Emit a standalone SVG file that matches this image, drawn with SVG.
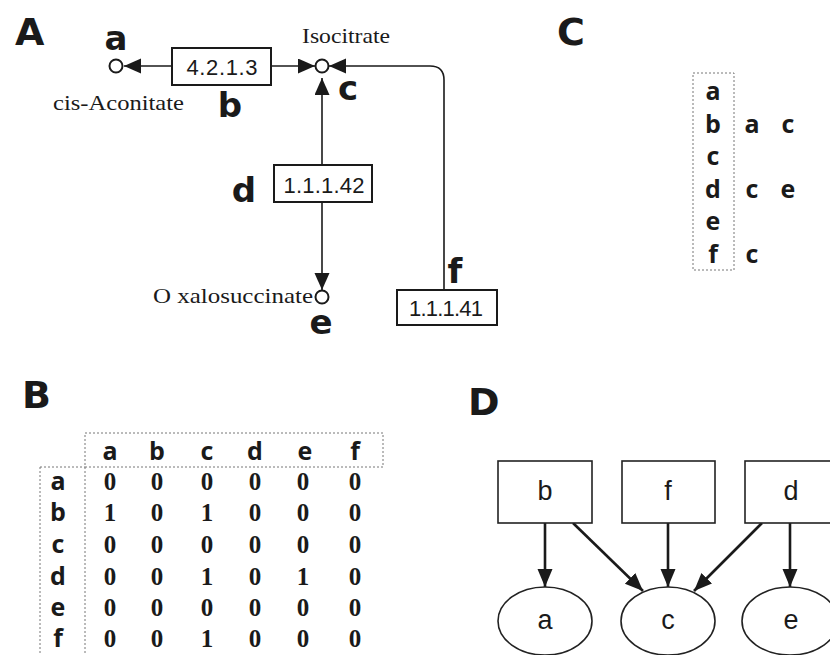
<svg xmlns="http://www.w3.org/2000/svg" width="830" height="655" viewBox="0 0 830 655">
<defs>
<style>
.panel{font-family:"DejaVu Sans",Verdana,sans-serif;font-weight:bold;font-size:38px;fill:#1a1a1a}
.lbl{font-family:"DejaVu Sans",Verdana,sans-serif;font-weight:bold;font-size:34px;fill:#1a1a1a;text-anchor:middle}
.ser{font-family:"Liberation Serif","Times New Roman",serif;font-size:21px;fill:#1a1a1a}
.ec{font-family:"Liberation Sans",Arial,sans-serif;font-size:22px;fill:#1a1a1a;text-anchor:middle}
.box{fill:#fff;stroke:#1a1a1a;stroke-width:2}
.met{fill:#fff;stroke:#1a1a1a;stroke-width:2}
.ln{fill:none;stroke:#1a1a1a;stroke-width:1.6}
.ln2{fill:none;stroke:#1a1a1a;stroke-width:2.6}
.let{font-family:"Open Sans","DejaVu Sans",sans-serif;font-weight:bold;font-size:25px;fill:#1a1a1a;text-anchor:middle}
.num{font-family:"Liberation Serif","Times New Roman",serif;font-weight:bold;font-size:25px;fill:#1a1a1a;text-anchor:middle}
.dash{fill:none;stroke:#777;stroke-width:1;stroke-dasharray:2 2}
.dbox{fill:#fff;stroke:#222;stroke-width:1.6}
.dtx{font-family:"Liberation Sans",Arial,sans-serif;font-size:27px;fill:#1a1a1a;text-anchor:middle}
</style>
<marker id="ah" markerUnits="userSpaceOnUse" markerWidth="20" markerHeight="18" refX="17" refY="7.5" orient="auto">
<path d="M0,0 L17,7.5 L0,15 z" fill="#1a1a1a"/>
</marker>
<marker id="ahd" markerUnits="userSpaceOnUse" markerWidth="20" markerHeight="16" refX="18" refY="7.5" orient="auto">
<path d="M0,0 L18,7.5 L0,15 z" fill="#1a1a1a"/>
</marker>
</defs>
<rect width="830" height="655" fill="#fff"/>

<!-- Panel labels -->
<text class="panel" x="15" y="45">A</text>
<text class="panel" x="22" y="408">B</text>
<text class="panel" x="557" y="45">C</text>
<text class="panel" x="468" y="415">D</text>

<!-- Panel A connectors -->
<g id="connectors-A">
<line class="ln" x1="172" y1="66" x2="124" y2="66" marker-end="url(#ah)"/>
<line class="ln" x1="271" y1="66" x2="315" y2="66" marker-end="url(#ah)"/>
<line class="ln" x1="322" y1="165" x2="322" y2="78" marker-end="url(#ah)"/>
<line class="ln" x1="322" y1="202" x2="322" y2="290" marker-end="url(#ah)"/>
<path class="ln" d="M444,290 V80 Q444,66 430,66 H329" marker-end="url(#ah)"/>
</g>

<!-- Panel A nodes -->
<g id="node-a">
<circle class="met" cx="116" cy="66" r="6.5"/>
<text class="lbl" x="116" y="50">a</text>
<text class="ser" x="53" y="110" textLength="131" lengthAdjust="spacingAndGlyphs">cis-Aconitate</text>
</g>
<g id="node-b">
<rect class="box" x="172" y="48" width="99" height="37"/>
<text class="ec" x="222" y="75" textLength="71" lengthAdjust="spacing">4.2.1.3</text>
<text class="lbl" x="230" y="117">b</text>
</g>
<g id="node-c">
<circle class="met" cx="322" cy="66" r="6.5"/>
<text class="ser" x="302" y="43" textLength="88" lengthAdjust="spacingAndGlyphs">Isocitrate</text>
<text class="lbl" x="348" y="100">c</text>
</g>
<g id="node-d">
<rect class="box" x="274" y="165" width="98" height="37"/>
<text class="ec" x="324" y="193" textLength="81" lengthAdjust="spacing">1.1.1.42</text>
<text class="lbl" x="244" y="202">d</text>
</g>
<g id="node-e">
<circle class="met" cx="322" cy="297" r="6.5"/>
<text class="ser" x="153" y="303" textLength="160" lengthAdjust="spacingAndGlyphs">O xalosuccinate</text>
<text class="lbl" x="321" y="334">e</text>
</g>
<g id="node-f">
<rect class="box" x="397" y="290" width="100" height="35"/>
<text class="ec" x="446" y="316" textLength="74" lengthAdjust="spacing">1.1.1.41</text>
<text class="lbl" x="455" y="283">f</text>
</g>

<!-- Panel C -->
<g id="panel-C">
<rect class="dash" x="693" y="73" width="41" height="197"/>
<text class="let" x="713" y="100">a</text>
<text class="let" x="713" y="133">b</text>
<text class="let" x="713" y="165">c</text>
<text class="let" x="713" y="198">d</text>
<text class="let" x="713" y="230">e</text>
<text class="let" x="713" y="263">f</text>
<text class="let" x="752" y="133">a</text>
<text class="let" x="788" y="133">c</text>
<text class="let" x="752" y="198">c</text>
<text class="let" x="788" y="198">e</text>
<text class="let" x="752" y="263">c</text>
</g>

<!-- Panel B -->
<g id="panel-B">
<rect class="dash" x="85" y="433" width="298" height="34"/>
<path class="dash" d="M40,467 H85 M40,467 V655 M85,467 V655"/>
<g class="let">
<text x="110" y="460">a</text><text x="157" y="460">b</text><text x="207" y="460">c</text>
<text x="255" y="460">d</text><text x="305" y="460">e</text><text x="355" y="460">f</text>
<text x="58" y="490">a</text><text x="58" y="521">b</text><text x="58" y="553">c</text>
<text x="58" y="585">d</text><text x="58" y="616">e</text><text x="58" y="647">f</text>
</g>
<g class="num">
<text x="110" y="490">0</text><text x="157" y="490">0</text><text x="207" y="490">0</text><text x="255" y="490">0</text><text x="303" y="490">0</text><text x="355" y="490">0</text>
<text x="110" y="521">1</text><text x="157" y="521">0</text><text x="207" y="521">1</text><text x="255" y="521">0</text><text x="303" y="521">0</text><text x="355" y="521">0</text>
<text x="110" y="553">0</text><text x="157" y="553">0</text><text x="207" y="553">0</text><text x="255" y="553">0</text><text x="303" y="553">0</text><text x="355" y="553">0</text>
<text x="110" y="585">0</text><text x="157" y="585">0</text><text x="207" y="585">1</text><text x="255" y="585">0</text><text x="303" y="585">1</text><text x="355" y="585">0</text>
<text x="110" y="616">0</text><text x="157" y="616">0</text><text x="207" y="616">0</text><text x="255" y="616">0</text><text x="303" y="616">0</text><text x="355" y="616">0</text>
<text x="110" y="647">0</text><text x="157" y="647">0</text><text x="207" y="647">1</text><text x="255" y="647">0</text><text x="303" y="647">0</text><text x="355" y="647">0</text>
</g>
</g>

<!-- Panel D connectors -->
<g id="connectors-D">
<line class="ln2" x1="545" y1="523" x2="545" y2="587" marker-end="url(#ahd)"/>
<line class="ln2" x1="573" y1="523" x2="643" y2="591" marker-end="url(#ahd)"/>
<line class="ln2" x1="668" y1="523" x2="668" y2="587" marker-end="url(#ahd)"/>
<line class="ln2" x1="762" y1="523" x2="694" y2="591" marker-end="url(#ahd)"/>
<line class="ln2" x1="790" y1="523" x2="790" y2="587" marker-end="url(#ahd)"/>
</g>
<g id="D-b"><rect class="dbox" x="498" y="461" width="94" height="62"/><text class="dtx" x="545" y="500">b</text></g>
<g id="D-f"><rect class="dbox" x="622" y="461" width="93" height="62"/><text class="dtx" x="668" y="500">f</text></g>
<g id="D-d"><rect class="dbox" x="745" y="461" width="95" height="62"/><text class="dtx" x="791" y="500">d</text></g>
<g id="D-a"><ellipse class="dbox" cx="545" cy="621" rx="47" ry="34"/><text class="dtx" x="545" y="629">a</text></g>
<g id="D-c"><ellipse class="dbox" cx="668" cy="621" rx="47" ry="34"/><text class="dtx" x="668" y="629">c</text></g>
<g id="D-e"><ellipse class="dbox" cx="790" cy="621" rx="48" ry="34"/><text class="dtx" x="791" y="629">e</text></g>
</svg>
